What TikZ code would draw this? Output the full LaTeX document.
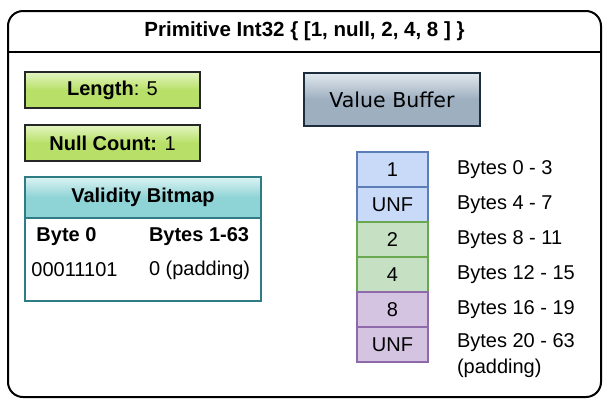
\documentclass[tikz,border=0pt]{standalone}
\usepackage{fontspec}
\setmainfont{Liberation Sans}
\newfontfamily\dvsfont{DejaVu Sans}
\definecolor{glossgreen}{HTML}{B8E068}
\definecolor{glossgreenlt}{HTML}{E4F5C2}
\definecolor{glossteal}{HTML}{8ED3D6}
\definecolor{glosstealt}{HTML}{DDF3F3}
\definecolor{tealborder}{HTML}{2E7D84}
\definecolor{glossslate}{HTML}{9EAFC0}
\definecolor{glossslatelt}{HTML}{E2E8EE}
\definecolor{slateborder}{HTML}{1E2D3C}
\definecolor{cblue}{HTML}{C9DAF8}
\definecolor{cblueb}{HTML}{5B7DB8}
\definecolor{cgreen}{HTML}{C6E0C3}
\definecolor{cgreenb}{HTML}{6AA84F}
\definecolor{cpurple}{HTML}{D5C4E1}
\definecolor{cpurpleb}{HTML}{8E6AAB}
\tikzset{
  every node/.style={inner sep=0pt, outer sep=0pt, font=\fontsize{20}{26}\selectfont},
  greenbox/.style={draw=black!85, line width=1.5pt, minimum width=175pt, minimum height=36pt,
    top color=glossgreenlt, bottom color=glossgreen, middle color=glossgreen},
  tealhead/.style={draw=tealborder, line width=1.5pt, minimum width=236pt, minimum height=41pt,
    top color=glosstealt, bottom color=glossteal, middle color=glossteal},
  slatebox/.style={draw=slateborder, line width=1.5pt, minimum width=176pt, minimum height=53pt,
    top color=glossslatelt, bottom color=glossslate, middle color=glossslate},
  cell/.style={line width=1.5pt, minimum width=71pt, minimum height=35pt},
  bluecell/.style={cell, fill=cblue, draw=cblueb},
  greencell/.style={cell, fill=cgreen, draw=cgreenb},
  purplecell/.style={cell, fill=cpurple, draw=cpurpleb},
  bytelabel/.style={anchor=west, align=left},
}
\begin{document}
\begin{tikzpicture}[x=1pt,y=-1pt]
\useasboundingbox (0,0) rectangle (608,405);
% outer frame
\node[draw, line width=2pt, rounded corners=15pt, minimum width=593pt, minimum height=386pt] (frame) at (304.5,204) {};
\coordinate (hl) at (8,52);
\coordinate (hr) at (601,52);
\draw[line width=2pt] (hl) -- (hr);
\node[font=\fontsize{20.5}{24}\selectfont\bfseries] (title) at (304.5,31.5) {Primitive Int32 \{ [1, null, 2, 4, 8 ] \}};
% left side
\node[greenbox] (len) at (112.5,90) {\textbf{Length}: 5};
\node[greenbox] (nc) at (112.5,143) {\textbf{Null Count:} 1};
\node[draw=tealborder, line width=1.5pt, minimum width=236pt, minimum height=124pt] (vbody) at (143,239) {};
\node[tealhead] (vhead) at (143,197.5) {\textbf{Validity Bitmap}};
\node[font=\fontsize{20}{24}\selectfont\bfseries] (b0) at (66.5,237) {Byte 0};
\node[font=\fontsize{20}{24}\selectfont\bfseries, anchor=west] (b1) at (149,237) {Bytes 1-63};
\node (v0) at (74.5,270) {00011101};
\node[anchor=west] (v1) at (149,270) {0 (padding)};
% right side
\node[slatebox, font=\dvsfont\fontsize{20.5}{24}\selectfont] (vb) at (392,99.5) {Value Buffer};
\node[bluecell] (c1) at (392.5,169.5) {1};
\node[bluecell] (c2) at (392.5,204.5) {UNF};
\node[greencell] (c3) at (392.5,239.5) {2};
\node[greencell] (c4) at (392.5,274.5) {4};
\node[purplecell] (c5) at (392.5,309.5) {8};
\node[purplecell] (c6) at (392.5,344.5) {UNF};
\node[bytelabel] (l1) at (457,169.5) {Bytes 0 - 3};
\node[bytelabel] (l2) at (457,204.5) {Bytes 4 - 7};
\node[bytelabel] (l3) at (457,239.5) {Bytes 8 - 11};
\node[bytelabel] (l4) at (457,274.5) {Bytes 12 - 15};
\node[bytelabel] (l5) at (457,309.5) {Bytes 16 - 19};
\node[bytelabel] (l6) at (457,356) {Bytes 20 - 63\\(padding)};
\end{tikzpicture}
\end{document}
